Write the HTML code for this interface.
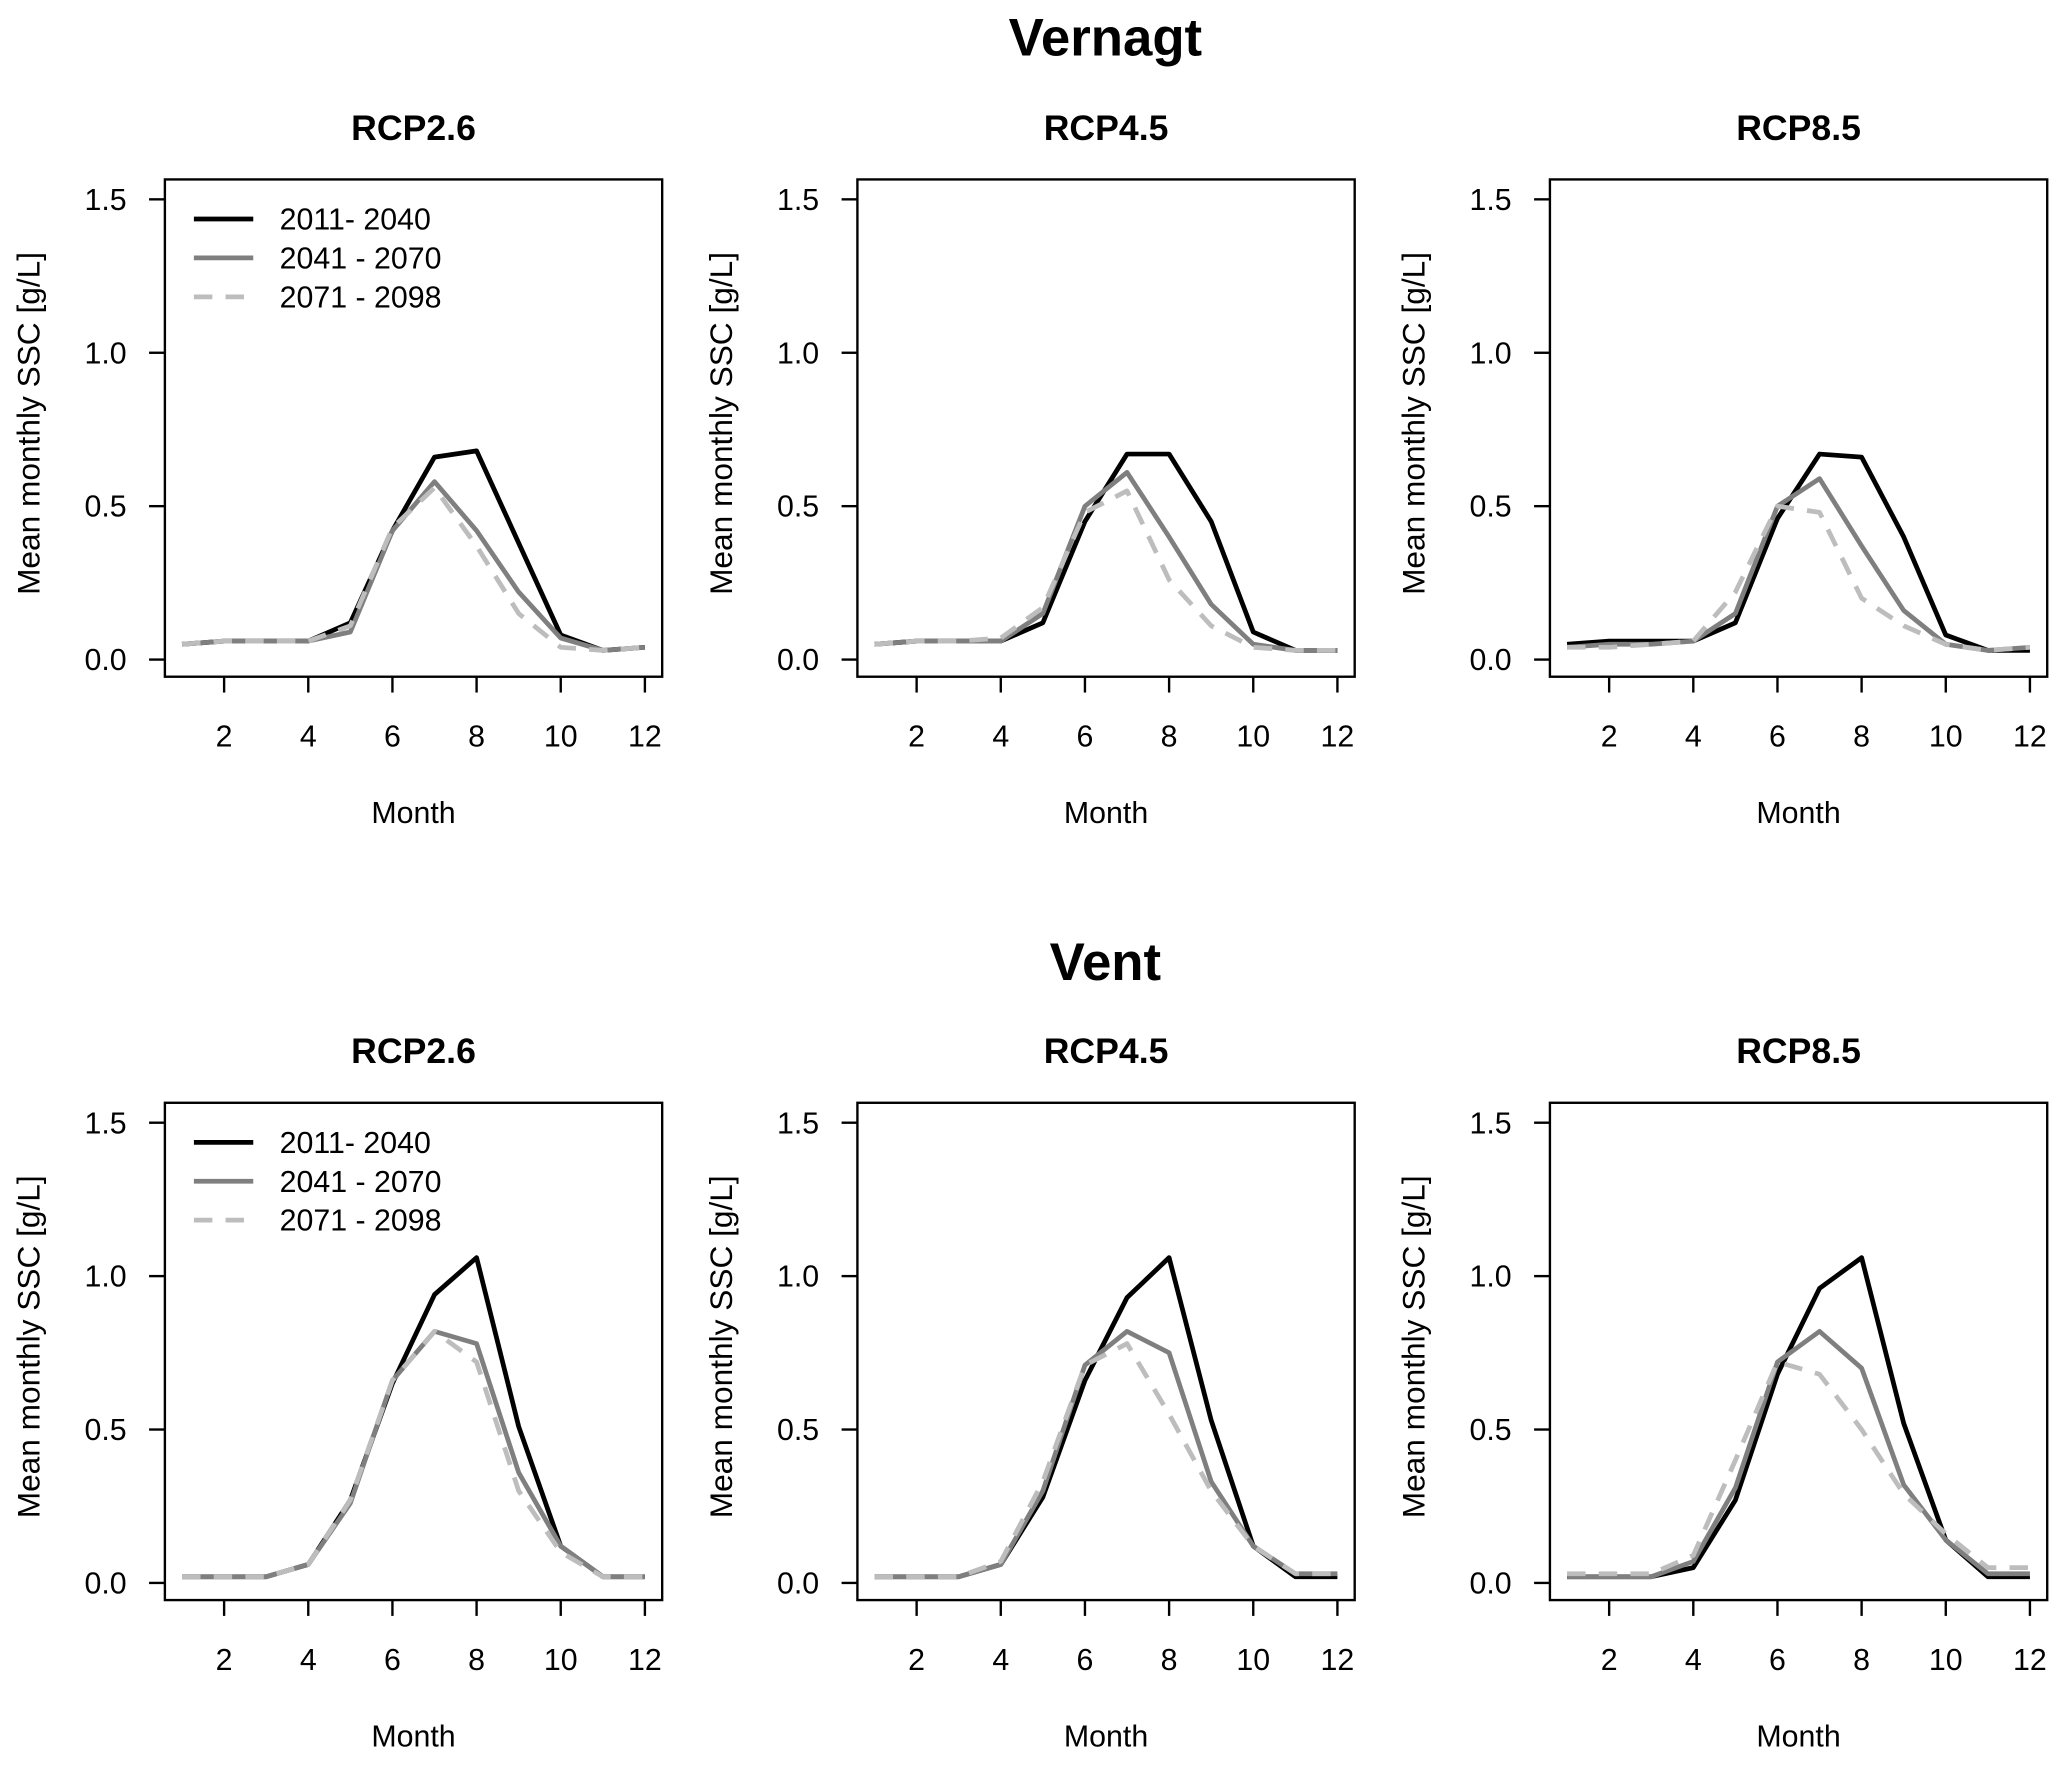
<!DOCTYPE html>
<html><head><meta charset="utf-8"><style>
html,body{margin:0;padding:0;background:#fff;}
svg{display:block;font-family:"Liberation Sans",Arial,sans-serif;}
</style></head><body>
<svg id="fig" width="2067" height="1765" viewBox="0 0 1567 1338" xmlns="http://www.w3.org/2000/svg">
<rect width="1567" height="1338" fill="#fff"/>
<text x="838" y="42" font-size="40" font-weight="bold" text-anchor="middle">Vernagt</text>
<text x="838" y="743" font-size="40" font-weight="bold" text-anchor="middle">Vent</text>
</svg>
<script>
const months = [1,2,3,4,5,6,7,8,9,10,11,12];
const xTicks = [2,4,6,8,10,12];
const yTicks = [0.0,0.5,1.0,1.5];
const yTickLabels = ["0.0","0.5","1.0","1.5"];
const scenarios = ["RCP2.6","RCP4.5","RCP8.5"];
const sites = ["vernagt","vent"];
const seriesNames = ["2011- 2040","2041 - 2070","2071 - 2098"];
// Vernagt
const vernagt26_p1 = [0.05,0.06,0.06,0.06,0.12,0.42,0.66,0.68,0.38,0.08,0.03,0.04];
const vernagt26_p2 = [0.05,0.06,0.06,0.06,0.09,0.42,0.58,0.42,0.22,0.07,0.03,0.04];
const vernagt26_p3 = [0.05,0.06,0.06,0.06,0.11,0.43,0.56,0.37,0.15,0.04,0.03,0.04];
const vernagt45_p1 = [0.05,0.06,0.06,0.06,0.12,0.45,0.67,0.67,0.45,0.09,0.03,0.03];
const vernagt45_p2 = [0.05,0.06,0.06,0.06,0.15,0.50,0.61,0.40,0.18,0.05,0.03,0.03];
const vernagt45_p3 = [0.05,0.06,0.06,0.07,0.17,0.48,0.55,0.26,0.11,0.04,0.03,0.03];
const vernagt85_p1 = [0.05,0.06,0.06,0.06,0.12,0.46,0.67,0.66,0.40,0.08,0.03,0.03];
const vernagt85_p2 = [0.04,0.05,0.05,0.06,0.15,0.50,0.59,0.37,0.16,0.05,0.03,0.04];
const vernagt85_p3 = [0.04,0.04,0.05,0.06,0.22,0.50,0.48,0.20,0.11,0.05,0.03,0.04];
// Vent
const vent26_p1 = [0.02,0.02,0.02,0.06,0.27,0.65,0.94,1.06,0.51,0.12,0.02,0.02];
const vent26_p2 = [0.02,0.02,0.02,0.06,0.26,0.66,0.82,0.78,0.36,0.12,0.02,0.02];
const vent26_p3 = [0.02,0.02,0.02,0.06,0.27,0.66,0.82,0.72,0.30,0.10,0.02,0.02];
const vent45_p1 = [0.02,0.02,0.02,0.06,0.28,0.66,0.93,1.06,0.53,0.12,0.02,0.02];
const vent45_p2 = [0.02,0.02,0.02,0.06,0.30,0.71,0.82,0.75,0.33,0.12,0.03,0.03];
const vent45_p3 = [0.02,0.02,0.02,0.07,0.33,0.71,0.78,0.55,0.30,0.12,0.03,0.03];
const vent85_p1 = [0.02,0.02,0.02,0.05,0.27,0.68,0.96,1.06,0.52,0.14,0.02,0.02];
const vent85_p2 = [0.02,0.02,0.02,0.07,0.31,0.72,0.82,0.70,0.32,0.14,0.03,0.03];
const vent85_p3 = [0.03,0.03,0.03,0.09,0.40,0.72,0.68,0.50,0.29,0.16,0.05,0.05];

const panelData = [
  [[vernagt26_p1,vernagt26_p2,vernagt26_p3],[vernagt45_p1,vernagt45_p2,vernagt45_p3],[vernagt85_p1,vernagt85_p2,vernagt85_p3]],
  [[vent26_p1,vent26_p2,vent26_p3],[vent45_p1,vent45_p2,vent45_p3],[vent85_p1,vent85_p2,vent85_p3]]
];
const NS = "http://www.w3.org/2000/svg";
const svg = document.getElementById('fig');
const styles = [
  {c:"#000000",w:3.6,d:null},
  {c:"#7f7f7f",w:3.6,d:null},
  {c:"#bdbdbd",w:3.6,d:"14 10"}
];
function mk(tag, attrs, parent){
  const e = document.createElementNS(NS, tag);
  for (const k in attrs) e.setAttribute(k, attrs[k]);
  (parent||svg).appendChild(e);
  return e;
}
for (let r=0;r<2;r++){
  for (let c=0;c<3;c++){
    const L = 125 + c*525, R = 502 + c*525, T = 136 + r*700, B = 513 + r*700;
    const xs = m => L + 13 + (m-1)*31.9;
    const ys = v => (500 + r*700) - v*232.6;
    const g = mk('g', {});
    
    
    const t = mk('text', {x:(L+R)/2, y:T-30, 'font-size':27, 'font-weight':'bold', 'text-anchor':'middle'}, g);
    t.textContent = scenarios[c];
    
    
    for (let s=0;s<3;s++){
      const vals = panelData[r][c][s];
      const pts = months.map((m,i)=> xs(m).toFixed(1)+','+ys(vals[i]).toFixed(1)).join(' ');
      const a = {points:pts, fill:'none', stroke:styles[s].c, 'stroke-width':styles[s].w, 'stroke-linejoin':'round'};
      if (styles[s].d) a['stroke-dasharray'] = styles[s].d;
      const pl = mk('polyline', a, g);
      
      
    }
    const box = mk('rect', {x:L, y:T, width:R-L, height:B-T, fill:'none', stroke:'#000', 'stroke-width':1.8}, g);
    
    
    xTicks.forEach(v=>{
      mk('line', {x1:xs(v), x2:xs(v), y1:B, y2:B+12, stroke:'#000', 'stroke-width':1.8}, g);
      const tl = mk('text', {x:xs(v), y:B+53, 'font-size':23, 'text-anchor':'middle'}, g);
      tl.textContent = v;
      
      
    });
    const xl = mk('text', {x:(L+R)/2, y:B+111, 'font-size':23, 'text-anchor':'middle'}, g);
    xl.textContent = 'Month';
    
    
    yTicks.forEach((v,i)=>{
      mk('line', {x1:L-12, x2:L, y1:ys(v), y2:ys(v), stroke:'#000', 'stroke-width':1.8}, g);
      const tl = mk('text', {x:L-29, y:ys(v)+8, 'font-size':23, 'text-anchor':'end'}, g);
      tl.textContent = yTickLabels[i];
      
      
    });
    const yl = mk('text', {x:0, y:0, 'font-size':24, 'text-anchor':'middle', transform:'translate('+(L-95)+','+(T+185)+') rotate(-90)'}, g);
    yl.textContent = 'Mean monthly SSC [g/L]';
    
    
    if (c===0){
      for (let s=0;s<3;s++){
        const yy = T + 30 + s*29.5;
        const a = {x1:L+22, x2:L+67, y1:yy, y2:yy, stroke:styles[s].c, 'stroke-width':styles[s].w};
        if (styles[s].d) a['stroke-dasharray'] = '14 10';
        const ll = mk('line', a, g);
        
        
        const lt = mk('text', {x:L+87, y:yy+8, 'font-size':23}, g);
        lt.textContent = seriesNames[s];
        
        
      }
    }
  }
}
</script>
</body></html>
